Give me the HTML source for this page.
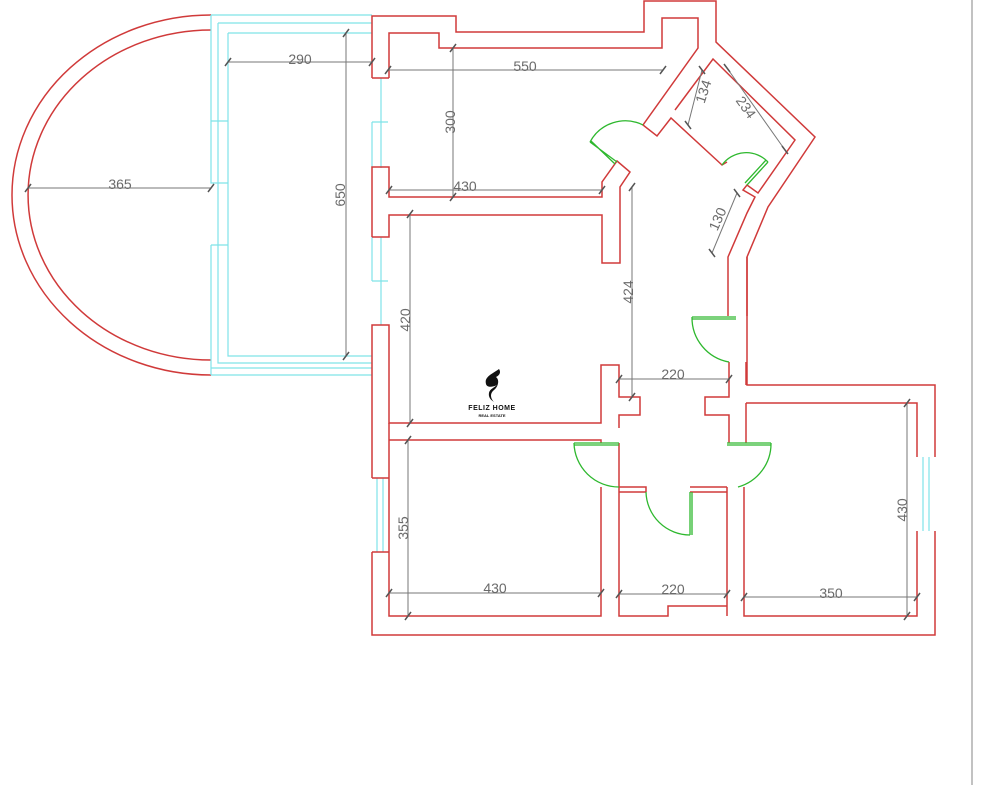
<!DOCTYPE html>
<html><head><meta charset="utf-8"><style>
html,body{margin:0;padding:0;background:#fff;}
svg{display:block;}
text{font-family:"Liberation Sans",sans-serif;fill:#6a6a6a;font-size:14px;}
</style></head><body>
<svg width="984" height="785" viewBox="0 0 984 785" xmlns="http://www.w3.org/2000/svg">
<rect width="984" height="785" fill="#fff"/>
<line x1="972" y1="0" x2="972" y2="785" stroke="#999" stroke-width="1.2"/>

<!-- balcony arcs -->
<g fill="none" stroke="#d03a3a" stroke-width="1.5">
<path d="M211,15 A199,180 0 0 0 211,375"/>
<path d="M211,30 A183,165 0 0 0 211,360"/>
</g>
<!-- cyan balcony / windows -->
<g fill="none" stroke="#7fe3e8" stroke-width="1.2">
<path d="M211,15 H372 M218,23 H372 M228,33 H372 M218,23 V363 H372 M228,33 V356 H372 M211,375 H372 M211,368 H372"/>
<path d="M211,15 V121 H228 M211,121 V183 H228 M211,245 H228 M211,245 V375"/>
<path d="M381,78 V168 M372,122 H388 M381,237 V325 M372,281 H388 M372,122 V168 M372,237 V281"/>
<path d="M377,478 V552 M383,478 V552"/>
<path d="M923,457 V531 M929,457 V531"/>
</g>

<!-- walls -->
<g fill="none" stroke="#d03a3a" stroke-width="1.5" stroke-linejoin="miter">
<!-- outer -->
<path d="M372,78 V16 H456 V32 H644 V1 H716 V42 L815,137 L768,207 L747,257 V385 H935 V457 M935,531 V635 H372 V552"/>
<path d="M372,478 V325 H389 V423 H601 V365 H619 V397 H640 V415 H619 V428"/>
<path d="M372,237 V167 H389 V197 H602 V182 L617,161 L630,172 L620,187 V263 H602 V215 H389 V237 H372"/>
<!-- top room inner -->
<path d="M389,78 H372 M389,78 V33 H439 V48 H662 V18 H698 V48 L643,125 L657,136 L671,118 L722,165 L727,162"/>
<path d="M675,110 L713,59 L795,140 L758,193 L747,185 L743,190 L755,197 L747,213 L728,257 V300 M728,300 V316"/>
<path d="M747,257 V316"/>
<!-- corridor right -->
<path d="M729,362 V397 H705 V415 H729 V443 M746,362 V385 M746,403 V443 M746,403 H917 V457 M917,531 V616 H744 V487"/>
<!-- lower left room -->
<path d="M389,440 H601 V443 M389,440 V616 H601 V487 M372,552 H389 M372,478 H389 V440 M389,423 V440"/>
<!-- middle bathroom -->
<path d="M619,443 V487 M619,487 V616 H668 V606 H727 V492 H690 M646,492 H619 M619,487 H646 V492 M690,487 H727 M727,487 V616"/>
</g>

<!-- doors -->
<g fill="none" stroke="#2eb82e" stroke-width="1.3">
<path d="M617,162 L590,142 M591,141 L615,164"/>
<path d="M590,142 A40,40 0 0 1 643,125"/>
<path d="M768,162 L747,185 M766,160 L745,183"/>
<path d="M722,165 A30,30 0 0 1 768,162"/>
<path d="M692,317 H736 M692,319 H736"/>
<path d="M692,317 A45,45 0 0 0 729,362"/>
<path d="M574,443 H619 M574,445 H619"/>
<path d="M574,443 A45,45 0 0 0 619,487"/>
<path d="M727,443 H771 M727,445 H771"/>
<path d="M771,443 A45,45 0 0 1 738,487"/>
<path d="M690,492 V535 M692,492 V535"/>
<path d="M646,492 A44,44 0 0 0 690,535"/>
</g>

<!-- dimension lines -->
<g stroke="#777" stroke-width="1" fill="none">
<line x1="228" y1="62" x2="372" y2="62"/>
<line x1="388" y1="70" x2="663" y2="70"/>
<line x1="453" y1="48" x2="453" y2="197"/>
<line x1="389" y1="190" x2="602" y2="190"/>
<line x1="28" y1="188" x2="211" y2="188"/>
<line x1="346" y1="33" x2="346" y2="356"/>
<line x1="702" y1="70" x2="688" y2="125"/>
<line x1="727" y1="68" x2="785" y2="150"/>
<line x1="737" y1="193" x2="712" y2="253"/>
<line x1="632" y1="187" x2="632" y2="397"/>
<line x1="410" y1="214" x2="410" y2="423"/>
<line x1="619" y1="379" x2="729" y2="379"/>
<line x1="907" y1="403" x2="907" y2="616"/>
<line x1="408" y1="440" x2="408" y2="616"/>
<line x1="389" y1="593" x2="601" y2="593"/>
<line x1="619" y1="594" x2="727" y2="594"/>
<line x1="744" y1="597" x2="917" y2="597"/>
</g>
<g stroke="#555" stroke-width="1.5">
<path d="M225,66 l6,-8 M369,66 l6,-8 M385,74 l6,-8 M660,74 l6,-8 M450,52 l6,-8 M450,201 l6,-8 M386,194 l6,-8 M599,194 l6,-8 M25,192 l6,-8 M208,192 l6,-8 M343,37 l6,-8 M343,360 l6,-8 M629,191 l6,-8 M629,401 l6,-8 M407,218 l6,-8 M407,427 l6,-8 M616,383 l6,-8 M726,383 l6,-8 M904,407 l6,-8 M904,620 l6,-8 M405,444 l6,-8 M405,620 l6,-8 M386,597 l6,-8 M598,597 l6,-8 M616,598 l6,-8 M724,598 l6,-8 M741,601 l6,-8 M914,601 l6,-8 M699,66 l6,8 M685,121 l6,8 M724,64 l6,8 M782,146 l6,8 M734,189 l6,8 M709,249 l6,8"/>
</g>

<!-- labels -->
<text x="300" y="64" text-anchor="middle">290</text>
<text x="525" y="71" text-anchor="middle">550</text>
<text x="465" y="191" text-anchor="middle">430</text>
<text x="120" y="189" text-anchor="middle">365</text>
<text transform="translate(455,122) rotate(-90)" text-anchor="middle">300</text>
<text transform="translate(345,195) rotate(-90)" text-anchor="middle">650</text>
<text transform="translate(708,93) rotate(-72)" text-anchor="middle">134</text>
<text transform="translate(742,110) rotate(55)" text-anchor="middle">234</text>
<text transform="translate(722,221) rotate(-66)" text-anchor="middle">130</text>
<text transform="translate(633,292) rotate(-90)" text-anchor="middle">424</text>
<text transform="translate(410,320) rotate(-90)" text-anchor="middle">420</text>
<text x="673" y="379" text-anchor="middle">220</text>
<text transform="translate(907,510) rotate(-90)" text-anchor="middle">430</text>
<text transform="translate(408,528) rotate(-90)" text-anchor="middle">355</text>
<text x="495" y="593" text-anchor="middle">430</text>
<text x="673" y="594" text-anchor="middle">220</text>
<text x="831" y="598" text-anchor="middle">350</text>

<!-- logo -->
<path d="M499,369 C492,374 484,377 486,384 C487,388 493,387 497,385 C492,389 488,390 489,396 C490,400 493,401 494,402 C490,398 490,393 494,390 C498,387 500,380 496,377 C500,375 501,372 499,369 Z" fill="#111"/>
<text x="492" y="410" text-anchor="middle" style="font-size:7px;font-weight:bold;fill:#111;letter-spacing:0.5px">FELIZ HOME</text>
<text x="492" y="417" text-anchor="middle" style="font-size:4px;font-weight:bold;fill:#111">REAL ESTATE</text>
</svg>
</body></html>
